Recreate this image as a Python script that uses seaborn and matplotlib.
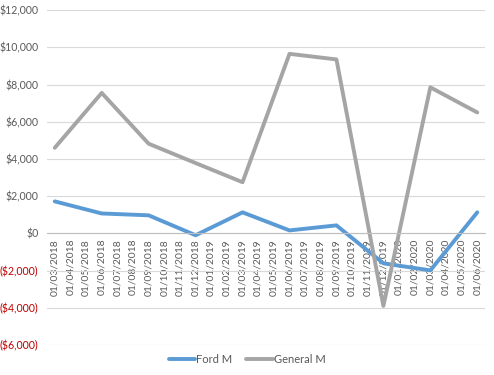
import numpy as np
import pandas as pd
import matplotlib
matplotlib.use("Agg")
import matplotlib.pyplot as plt
import matplotlib.ticker as mticker
import seaborn as sns

# values (quarterly points)
dates = ["01/03/2018", "01/06/2018", "01/09/2018", "01/12/2018", "01/03/2019",
         "01/06/2019", "01/09/2019", "01/12/2019", "01/03/2020", "01/06/2020"]
ford = [1720, 1070, 970, -100, 1130, 160, 430, -1610, -1990, 1130]
general = [4600, 7550, 4820, 3780, 2750, 9650, 9350, -3900, 7850, 6500]
series_names = ["Ford M", "General M"]
colors = ["#5B9BD5", "#A5A5A5"]

# monthly axis labels
months = pd.date_range("2018-03-01", "2020-06-01", freq="MS")
tick_labels = [d.strftime("%d/%m/%Y") for d in months]


def month_index(s):
    d = pd.to_datetime(s, format="%d/%m/%Y")
    return (d.year - 2018) * 12 + d.month - 3


df = pd.DataFrame({
    "x": [month_index(d) for d in dates] * 2,
    "value": ford + general,
    "series": [series_names[0]] * len(dates) + [series_names[1]] * len(dates),
})

sns.set_style("white")
plt.rcParams["font.family"] = ["Lato", "DejaVu Sans"]

fig = plt.figure(figsize=(4.94, 3.75), dpi=100)
ax = fig.add_axes([0.095, 0.08, 0.887, 0.893])

ax.yaxis.grid(True, color="#D9D9D9", lw=0.8)
ax.set_axisbelow(True)

sns.lineplot(data=df, x="x", y="value", hue="series", palette=colors,
             lw=2.8, ax=ax, legend=False)

# spine first: moving it resets the tick styling
for s in ["top", "right", "left"]:
    ax.spines[s].set_visible(False)
ax.spines["bottom"].set_position(("data", 0))
ax.spines["bottom"].set_color("#BFBFBF")
ax.spines["bottom"].set_linewidth(0.8)
ax.set_xlabel("")
ax.set_ylabel("")

ax.set_xlim(-0.5, len(months) - 0.5)
ax.set_ylim(-6000, 12000)
ax.set_yticks(np.arange(-6000, 12001, 2000))


def money(v, pos):
    if v < 0:
        return "(${:,.0f})".format(-v)
    return "${:,.0f}".format(v)


ax.yaxis.set_major_formatter(mticker.FuncFormatter(money))
ax.tick_params(axis="y", length=0, labelsize=7.6, pad=6)
fig.canvas.draw()
for lab, v in zip(ax.get_yticklabels(), ax.get_yticks()):
    lab.set_color("#C00000" if v < 0 else "#595959")

ax.set_xticks(range(len(months)))
ax.set_xticklabels(tick_labels, rotation=90, fontsize=7.4, color="#595959")
ax.set_xticks(np.arange(-0.5, len(months), 1), minor=True)
ax.tick_params(axis="x", which="major", length=0, pad=4)
ax.tick_params(axis="x", which="minor", length=4, direction="inout", color="#BFBFBF")

handles = [plt.Line2D([], [], color=c, lw=2.8) for c in colors]
fig.legend(handles, series_names, loc="lower center", bbox_to_anchor=(0.5, 0.0),
           ncol=2, frameon=False, fontsize=8, handlelength=2.4,
           columnspacing=1.2, handletextpad=0.1, labelcolor="#595959")

fig.savefig("out.png", dpi=100)
